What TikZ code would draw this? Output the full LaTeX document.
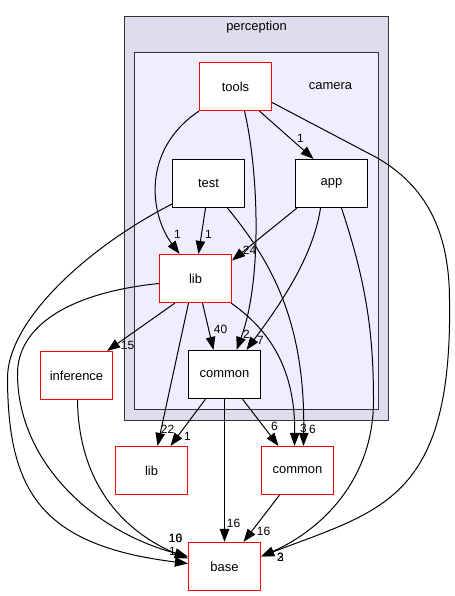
\documentclass[tikz,border=0pt]{standalone}
\usepackage{fontspec}
\setmainfont{Liberation Sans}
\usetikzlibrary{arrows.meta}
\definecolor{outerfill}{HTML}{DDDDEE}
\definecolor{innerfill}{HTML}{EEEEFF}
\definecolor{clusterline}{HTML}{333333}
\pgfdeclarelayer{bg}
\pgfdeclarelayer{edgelayer}
\pgfsetlayers{bg,edgelayer,main}
\begin{document}
\begin{tikzpicture}[x=1bp,y=-1bp,
  box/.style={draw, line width=1.2bp, fill=white, minimum width=72bp, minimum height=48bp, inner sep=0pt, font=\fontsize{13}{15}\selectfont},
  redbox/.style={box, draw=red},
  blackbox/.style={box, draw=black},
  edge/.style={draw=black, line width=1bp, -{Triangle[length=13bp,width=9.5bp]}},
  lab/.style={font=\fontsize{12}{14}\selectfont, inner sep=0pt},
  clab/.style={font=\fontsize{13}{15}\selectfont, inner sep=0pt},
  cluster/.style={draw=clusterline, line width=1.6bp}]
\useasboundingbox (-0.5,-0.5) rectangle (454.5,595.5);
% clusters
\begin{pgfonlayer}{bg}
\draw[cluster, fill=outerfill] (124,16) rectangle (388,420);
\draw[cluster, fill=innerfill] (134,52) rectangle (378,409);
\end{pgfonlayer}
\node[clab] (perclabel) at (256,27) {perception};
\node[clab] (camlabel) at (330,86) {camera};
% nodes
\node[redbox] (tools) at (235,86) {tools};
\node[blackbox] (test) at (208,183) {test};
\node[blackbox] (app) at (331,183) {app};
\node[redbox] (lib) at (195,278) {lib};
\node[blackbox] (common) at (224,374) {common};
\node[redbox] (inference) at (76,375) {inference};
\node[redbox] (libo) at (151,470) {lib};
\node[redbox] (commono) at (297,470) {common};
\node[redbox] (base) at (224,566) {base};
% edges
\begin{pgfonlayer}{edgelayer}
\draw[edge] (tools.south west) .. controls (140,150) and (150,215) .. ([xshift=-16bp]lib.north);
\draw[edge] ([xshift=9bp]tools.south) .. controls (258,170) and (262,280) .. ([xshift=12bp]common.north);
\draw[edge] ([xshift=24bp]tools.south) -- ([xshift=-18bp]app.north);
\draw[edge] ([yshift=-16bp]tools.east) -- (376,157) .. controls (425,185) and (449,230) .. (449,300) .. controls (452,500) and (380,510) .. ([yshift=10bp]base.east);
\draw[edge] ([xshift=-3bp]test.south) -- ([xshift=3bp]lib.north);
\draw[edge] ([xshift=19bp]test.south) .. controls (270,260) and (305,320) .. ([xshift=6bp]commono.north);
\draw[edge] ([yshift=4bp]test.south west) .. controls (90,245) and (5,320) .. (7,380) .. controls (8,490) and (40,545) .. ([yshift=3bp]base.west);
\draw[edge] ([xshift=2bp]app.south west) -- ([yshift=18bp]lib.east);
\draw[edge] ([xshift=-11bp]app.south) .. controls (312,260) and (275,310) .. ([xshift=22bp]common.north);
\draw[edge] ([xshift=10bp]app.south) .. controls (365,280) and (373,330) .. (373,400) .. controls (373,480) and (320,530) .. ([yshift=10bp]base.east);
\draw[edge] ([xshift=7bp]lib.south) -- ([xshift=-11bp]common.north);
\draw[edge] ([xshift=-1bp]lib.south east) .. controls (270,330) and (295,370) .. ([xshift=-3bp]commono.north);
\draw[edge] ([xshift=16bp]lib.south west) -- ([xshift=-6bp]inference.north east);
\draw[edge] ([xshift=-7bp]lib.south) -- ([xshift=6bp]libo.north);
\draw[edge] ([yshift=-5bp]lib.west) .. controls (70,292) and (16,325) .. (17,375) .. controls (18,460) and (90,530) .. ([yshift=10bp]base.west);
\draw[edge] ([xshift=-19bp]common.south) -- ([xshift=19bp]libo.north);
\draw[edge] (common.south) -- (base.north);
\draw[edge] ([xshift=18bp]common.south) -- ([xshift=-19bp]commono.north);
\draw[edge] ([xshift=1bp]inference.south) .. controls (78,480) and (120,530) .. ([yshift=8bp]base.west);
\draw[edge] ([xshift=-18bp]commono.south) -- ([xshift=19bp]base.north);
\end{pgfonlayer}
% edge labels
\node[lab] (l1) at (300,138) {1};
\node[lab] (l2) at (177,234) {1};
\node[lab] (l3) at (208,234) {1};
\node[lab] (l4) at (249,250) {24};
\node[lab] (l5) at (220,329) {40};
\node[lab] (l6) at (246,334) {2};
\node[lab] (l7) at (260,340) {7};
\node[lab] (l8) at (167,429) {22};
\node[lab] (l9) at (187,436) {1};
\node[lab] (l10) at (274,426) {6};
\node[lab] (l11) at (303,428) {3};
\node[lab] (l12) at (312,429) {6};
\node[lab] (l13) at (127,345) {15};
\node[lab] (l14) at (233,523) {16};
\node[lab] (l15) at (263,531) {16};
\node[lab] (l16) at (175,538) {10};
\node[lab] (l17) at (175,538) {16};
\node[lab] (l18) at (172,551) {1};
\node[lab] (l19) at (280,557) {3};
\node[lab] (l20) at (280,557) {2};
\end{tikzpicture}
\end{document}
